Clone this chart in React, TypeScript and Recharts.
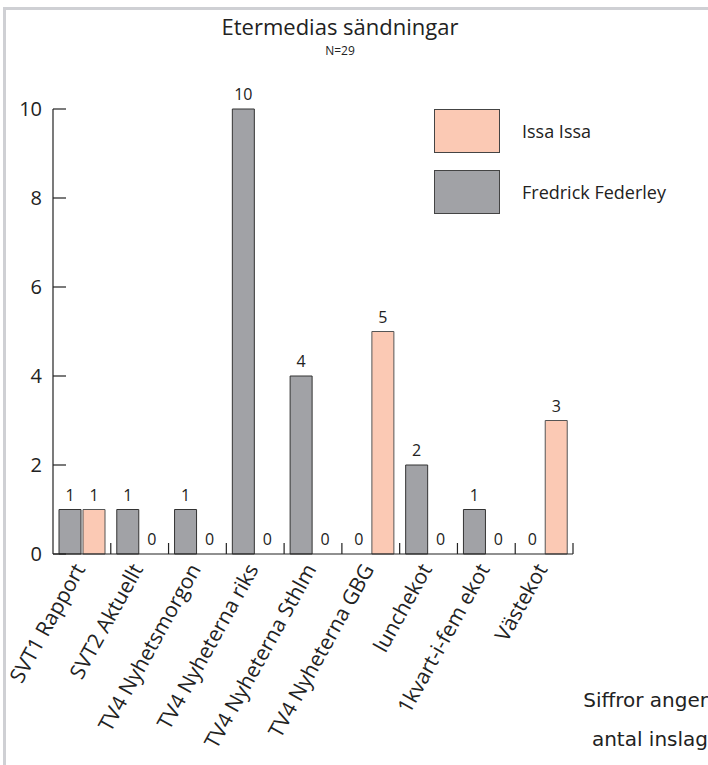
import React from "react";
import { BarChart, Bar, XAxis, YAxis, LabelList, Cell } from "recharts";

const categories = [
  "SVT1 Rapport",
  "SVT2 Aktuellt",
  "TV4 Nyhetsmorgon",
  "TV4 Nyheterna riks",
  "TV4 Nyheterna Sthlm",
  "TV4 Nyheterna GBG",
  "lunchekot",
  "1kvart-i-fem ekot",
  "Västekot",
];
const federley = [1, 1, 1, 10, 4, 0, 2, 1, 0];
const issa = [1, 0, 0, 0, 0, 5, 0, 0, 3];
const yTicks = [0, 2, 4, 6, 8, 10];

const data = categories.map((name, i) => ({
  name,
  federley: federley[i],
  issa: issa[i],
}));

const GRAY = "#a1a2a6";
const PEACH = "#fbc9b4";
const FONT = "'Open Sans', sans-serif";
const WIDE = "'DejaVu Sans', sans-serif";

const series = [
  { key: "issa", name: "Issa Issa", color: PEACH },
  { key: "federley", name: "Fredrick Federley", color: GRAY },
];

const YTick = (props: any) => {
  const { x, y, payload } = props;
  return (
    <g>
      <line x1={x + 8} x2={x + 21} y1={y} y2={y} stroke="#222" strokeWidth={1.2} />
      <text x={x - 3} y={y} dy={7} textAnchor="end" fontSize={20} fill="#222" fontFamily={FONT}>
        {payload.value}
      </text>
    </g>
  );
};

const XTick = (props: any) => {
  const { x, y, payload } = props;
  const half = payload.offset ?? 29;
  const tx = x + 4;
  const ty = y + 15;
  return (
    <g>
      <line x1={x + half} x2={x + half} y1={y} y2={y - 11} stroke="#222" strokeWidth={1.2} />
      <text
        x={tx}
        y={ty}
        textAnchor="end"
        fontSize={21}
        fill="#222"
        fontFamily={FONT}
        transform={`rotate(-61, ${tx}, ${ty})`}
      >
        {payload.value}
      </text>
    </g>
  );
};

const valueLabel = (props: any) => {
  const { x, y, width, value } = props;
  return (
    <text x={x + width / 2} y={y - 9} textAnchor="middle" fontSize={16} fill="#222" fontFamily={FONT}>
      {value}
    </text>
  );
};

export default function App() {
  return (
    <div style={{ position: "relative", width: 708, height: 765, background: "#fff", overflow: "hidden" }}>
      <style>{`body{margin:0}`}</style>
      <div style={{ position: "absolute", left: 3, top: 7, right: 0, height: 3, background: "#cfd0d4" }} />
      <div style={{ position: "absolute", left: 3, top: 7, width: 3, bottom: 0, background: "#cfd0d4" }} />
      <div
        style={{
          position: "absolute",
          left: 0,
          width: 680,
          top: 12,
          textAlign: "center",
          fontFamily: FONT,
          color: "#222",
        }}
      >
        <div style={{ fontSize: 22, lineHeight: "29px" }}>Etermedias sändningar</div>
        <div style={{ fontSize: 12, lineHeight: "14px", marginTop: 3 }}>N=29</div>
      </div>
      <BarChart
        width={708}
        height={765}
        data={data}
        margin={{ top: 109, right: 135, bottom: 0, left: 0 }}
        barCategoryGap={6}
        barGap={2}
        style={{ position: "absolute", left: 0, top: 0 }}
      >
        <YAxis
          width={53}
          domain={[0, 10]}
          ticks={yTicks}
          tickSize={0}
          tickMargin={8}
          axisLine={{ stroke: "#222", strokeWidth: 1.2 }}
          tickLine={false}
          tick={<YTick />}
          interval={0}
        />
        <XAxis
          dataKey="name"
          height={211}
          interval={0}
          tickSize={0}
          tickMargin={0}
          axisLine={{ stroke: "#222", strokeWidth: 1.2 }}
          tickLine={false}
          tick={<XTick />}
        />
        <Bar dataKey="federley" name="Fredrick Federley" fill={GRAY} stroke="#333" strokeWidth={1} minPointSize={0.01} isAnimationActive={false}>
          {data.map((d, i) => (
            <Cell key={i} stroke={d.federley === 0 ? "none" : "#333"} />
          ))}
          <LabelList dataKey="federley" content={valueLabel} />
        </Bar>
        <Bar dataKey="issa" name="Issa Issa" fill={PEACH} stroke="#555" strokeWidth={1} minPointSize={0.01} isAnimationActive={false}>
          {data.map((d, i) => (
            <Cell key={i} stroke={d.issa === 0 ? "none" : "#555"} />
          ))}
          <LabelList dataKey="issa" content={valueLabel} />
        </Bar>
      </BarChart>
      <div style={{ position: "absolute", left: 434, top: 109 }}>
        {series.map((s) => (
          <div key={s.key} style={{ display: "flex", alignItems: "center", height: 44, marginBottom: 17 }}>
            <div
              style={{
                width: 66,
                height: 44,
                background: s.color,
                border: "1px solid #444",
                boxSizing: "border-box",
              }}
            />
            <span style={{ marginLeft: 22, fontSize: 18, color: "#222", fontFamily: FONT }}>{s.name}</span>
          </div>
        ))}
      </div>
      <div
        style={{
          position: "absolute",
          right: 0,
          top: 681,
          textAlign: "right",
          fontFamily: WIDE,
          fontSize: 20,
          lineHeight: "39px",
          color: "#222",
          whiteSpace: "nowrap",
        }}
      >
        <div>Siffror anger</div>
        <div>antal inslag</div>
      </div>
    </div>
  );
}
